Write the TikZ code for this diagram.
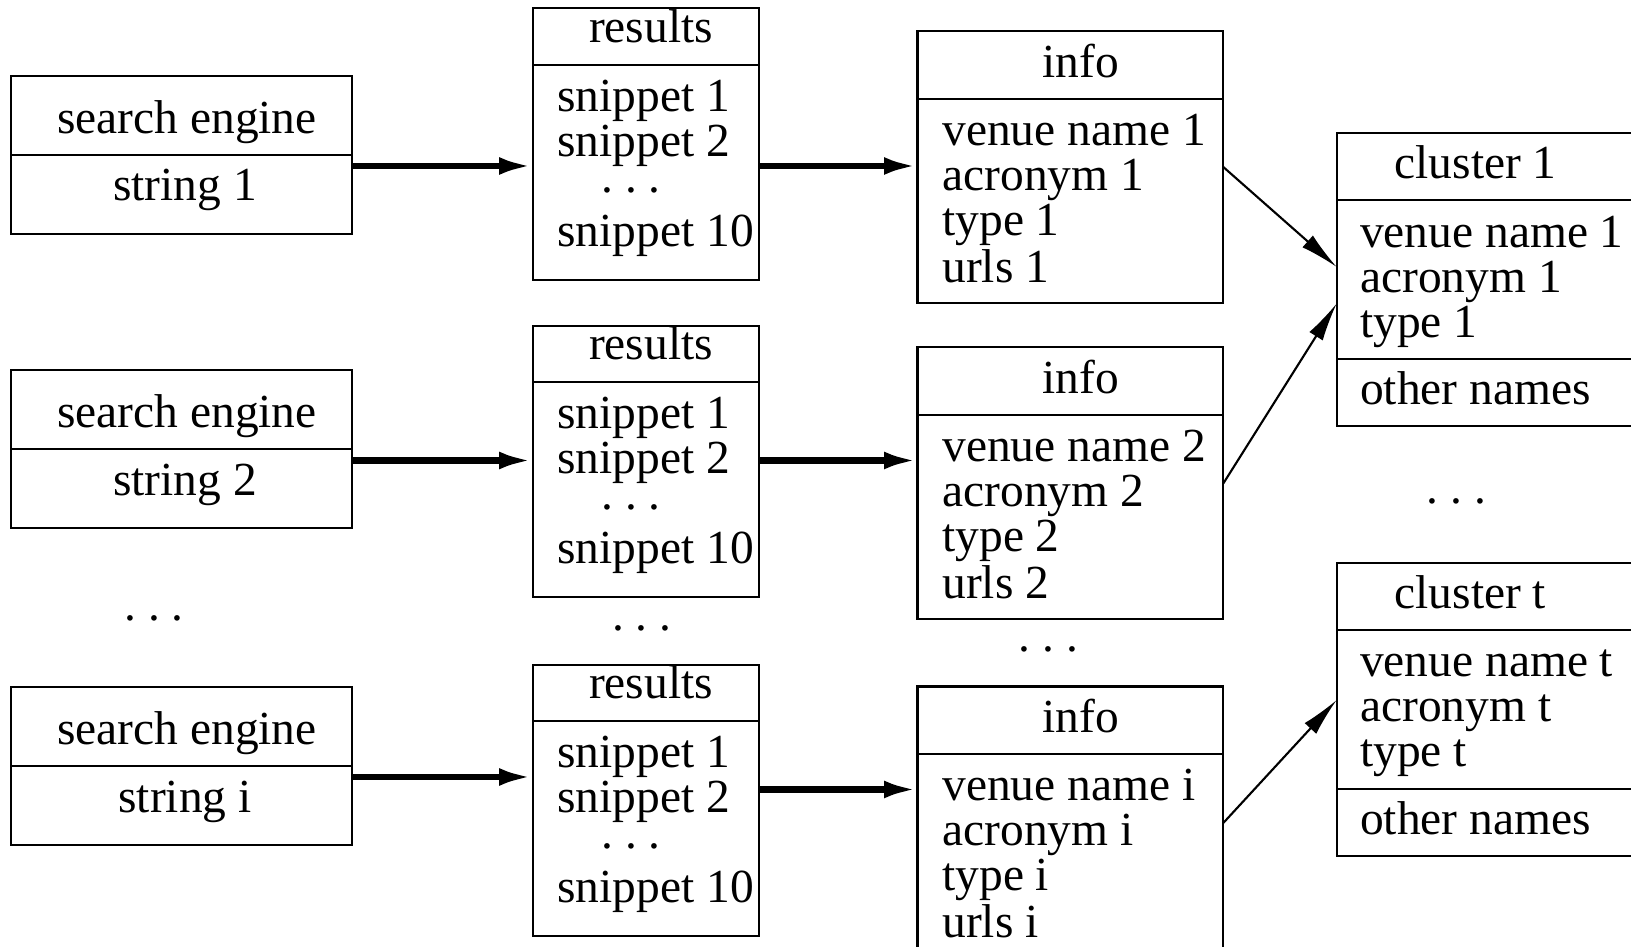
\documentclass[tikz,border=0pt]{standalone}
\usepackage{fontspec}
\setmainfont{Liberation Serif}
\usepackage{tikz}
\usetikzlibrary{arrows.meta}
\newcommand{\rows}[1]{\begin{tabular}[t]{@{}l@{}}#1\end{tabular}}
\newcommand{\etcdots}{.~.~.}
\tikzset{
  every node/.style={font=\fontsize{13.5}{12.8}\selectfont},
  box/.style={draw, rectangle, line width=0.6pt, inner sep=0pt, outer sep=0pt, anchor=north west},
  sep/.style={line width=0.6pt},
  lbl/.style={inner sep=0pt, anchor=base},
  lst/.style={inner sep=0pt, anchor=base west},
  fat/.style={line width=1.8pt, -{Latex[length=9.5pt,width=5pt]}},
  link/.style={line width=0.6pt, -{Latex[length=11pt,width=4.5pt]}}
}

\begin{document}
\begin{tikzpicture}[x=0.1mm, y=-0.1mm]
\useasboundingbox (0,0) rectangle (1631,947);
\clip (0,0) rectangle (1631,947);

% search engines
\begin{scope}[shift={(11.4,75.9)}]
\node[box, minimum width=34.02mm, minimum height=15.81mm] (se1) at (0,0) {};
\draw[sep] (0,79.1) -- (340.2,79.1);
\node[lbl] (se1a) at (175.6,57.5) {search engine};
\node[lbl] (se1b) at (173.6,125) {string 1};
\end{scope}
\begin{scope}[shift={(11.4,370.3)}]
\node[box, minimum width=34.02mm, minimum height=15.81mm] (se2) at (0,0) {};
\draw[sep] (0,79.1) -- (340.2,79.1);
\node[lbl] (se2a) at (175.6,57.5) {search engine};
\node[lbl] (se2b) at (173.6,125) {string 2};
\end{scope}
\node[lbl] (sedots) at (154,621) {\etcdots};
\begin{scope}[shift={(11.4,687.3)}]
\node[box, minimum width=34.02mm, minimum height=15.81mm] (sei) at (0,0) {};
\draw[sep] (0,79.1) -- (340.2,79.1);
\node[lbl] (seia) at (175.6,57.5) {search engine};
\node[lbl] (seib) at (173.6,125) {string i};
\end{scope}

% results
\begin{scope}[shift={(532.6,8.3)}]
\node[box, minimum width=22.67mm, minimum height=27.15mm] (res1) at (0,0) {};
\draw[sep] (0,56.3) -- (226.7,56.3);
\node[lbl] (res1a) at (118.4,34) {results};
\node[lst] (res1b) at (24.1,103) {\rows{snippet 1\\ snippet 2\\ \hspace*{12.5pt}\raisebox{2.6pt}{\etcdots}\\ snippet 10}};
\end{scope}
\begin{scope}[shift={(532.6,325.6)}]
\node[box, minimum width=22.67mm, minimum height=27.15mm] (res2) at (0,0) {};
\draw[sep] (0,56.3) -- (226.7,56.3);
\node[lbl] (res2a) at (118.4,34) {results};
\node[lst] (res2b) at (24.1,103) {\rows{snippet 1\\ snippet 2\\ \hspace*{12.5pt}\raisebox{2.6pt}{\etcdots}\\ snippet 10}};
\end{scope}
\node[lbl] (resdots) at (641.8,631) {\etcdots};
\begin{scope}[shift={(532.6,664.7)}]
\node[box, minimum width=22.67mm, minimum height=27.15mm] (resi) at (0,0) {};
\draw[sep] (0,56.3) -- (226.7,56.3);
\node[lbl] (resia) at (118.4,34) {results};
\node[lst] (resib) at (24.1,103) {\rows{snippet 1\\ snippet 2\\ \hspace*{12.5pt}\raisebox{2.6pt}{\etcdots}\\ snippet 10}};
\end{scope}

% info
\begin{scope}[shift={(917.5,31.2)}]
\node[box, minimum width=30.58mm, minimum height=27.15mm] (inf1) at (0,0) {};
\draw[sep] (0,67.6) -- (305.8,67.6);
\node[lbl] (inf1a) at (163.3,46) {info};
\node[lst] (inf1b) at (24.2,114.5) {\rows{venue name 1\\ acronym 1\\ type 1\\ urls 1}};
\end{scope}
\begin{scope}[shift={(917.5,347.4)}]
\node[box, minimum width=30.58mm, minimum height=27.15mm] (inf2) at (0,0) {};
\draw[sep] (0,67.6) -- (305.8,67.6);
\node[lbl] (inf2a) at (163.3,46) {info};
\node[lst] (inf2b) at (24.2,114.5) {\rows{venue name 2\\ acronym 2\\ type 2\\ urls 2}};
\end{scope}
\node[lbl] (infdots) at (1048.5,652) {\etcdots};
\begin{scope}[shift={(917.5,686.5)}]
\node[box, minimum width=30.58mm, minimum height=27.15mm] (infi) at (0,0) {};
\draw[sep] (0,67.6) -- (305.8,67.6);
\node[lbl] (infia) at (163.3,46) {info};
\node[lst] (infib) at (24.2,114.5) {\rows{venue name i\\ acronym i\\ type i\\ urls i}};
\end{scope}

% clusters
\begin{scope}[shift={(1336.7,133.1)}]
\node[box, minimum width=40mm, minimum height=29.3mm] (cl1) at (0,0) {};
\draw[sep] (0,67) -- (400,67);
\draw[sep] (0,226) -- (400,226);
\node[lst] (cl1a) at (57.2,45.5) {cluster 1};
\node[lst] (cl1b) at (22.8,114) {\rows{venue name 1\\ acronym 1\\ type 1}};
\node[lst] (cl1c) at (22.8,271.5) {other names};
\end{scope}
\node[lbl] (cldots) at (1456.3,503.5) {\etcdots};
\begin{scope}[shift={(1336.7,562.8)}]
\node[box, minimum width=40mm, minimum height=29.3mm] (clt) at (0,0) {};
\draw[sep] (0,67) -- (400,67);
\draw[sep] (0,226) -- (400,226);
\node[lst] (clta) at (57.2,45.5) {cluster t};
\node[lst] (cltb) at (22.8,114) {\rows{venue name t\\ acronym t\\ type t}};
\node[lst] (cltc) at (22.8,271.5) {other names};
\end{scope}

% arrows
\draw[fat] (se1.east |- 0,166) -- (res1.west |- 0,166);
\draw[fat] (se2.east |- 0,460.5) -- (res2.west |- 0,460.5);
\draw[fat] (sei.east |- 0,777) -- (resi.west |- 0,777);
\draw[fat] (res1.east |- 0,166) -- (inf1.west |- 0,166);
\draw[fat] (res2.east |- 0,460.5) -- (inf2.west |- 0,460.5);
\draw[fat] (resi.east |- 0,789.5) -- (infi.west |- 0,789.5);
\draw[link] (inf1.east |- 0,167) -- (cl1.west |- 0,267);
\draw[link] (inf2.east |- 0,483.5) -- (cl1.west |- 0,303.5);
\draw[link] (infi.east |- 0,823) -- (clt.west |- 0,700);
\end{tikzpicture}
\end{document}
